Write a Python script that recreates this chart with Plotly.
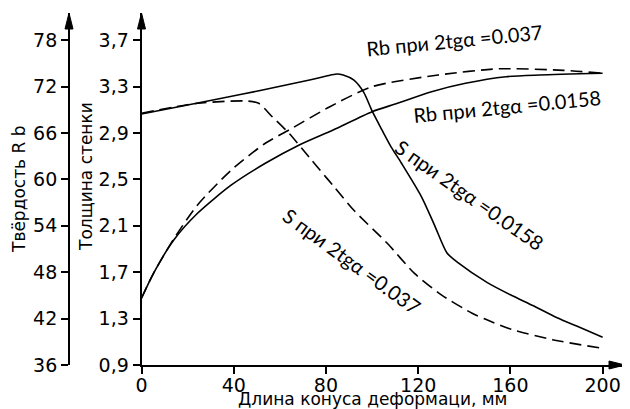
import plotly.graph_objects as go

# ---- data ----
x_s_0158 = [0, 20, 43.4, 58.1, 72.9, 80.2, 84.6, 87.5, 92, 96.4, 100, 104.3, 108.3, 112.7,
            121.5, 127.2, 132.5, 137.4, 150, 160, 170, 180, 190, 200]
s_0158 = [3.064, 3.142, 3.234, 3.294, 3.357, 3.391, 3.409, 3.40, 3.357, 3.25, 3.09, 2.926, 2.779,
          2.641, 2.348, 2.10, 1.866, 1.78, 1.61, 1.505, 1.41, 1.31, 1.225, 1.14]

x_s_037 = [0, 24.3, 45.6, 50.8, 56.7, 64, 72.9, 77.3, 83.1, 92, 106.6, 118.4, 130.2, 143.4,
           149.3, 160.3, 178.7, 200]
s_037 = [3.07, 3.156, 3.176, 3.156, 3.04, 2.897, 2.687, 2.583, 2.446, 2.236, 1.949, 1.69, 1.503,
         1.346, 1.294, 1.208, 1.116, 1.044]

x_rb_0158 = [0, 5.2, 14, 24.3, 39, 53.7, 68.4, 83.1, 100, 111, 125.8, 140.5, 158.1, 172.7, 200]
rb_0158 = [44.63, 47.86, 52.16, 55.62, 59.28, 62.08, 64.45, 66.39, 68.76, 69.84, 71.34, 72.43,
           73.28, 73.5, 73.72]

x_rb_037 = [0, 5.2, 14, 24.3, 39, 53.7, 64, 81.7, 100, 128.7, 155.1, 183.1, 200]
rb_037 = [44.63, 47.86, 52.3, 56.69, 61.22, 64.67, 66.39, 69.4, 71.99, 73.5, 74.3, 74.1, 73.72]

x_ticks = [0, 40, 80, 120, 160, 200]
t_ticks = [0.9, 1.3, 1.7, 2.1, 2.5, 2.9, 3.3, 3.7]
t_ticktext = ["0,9", "1,3", "1,7", "2,1", "2,5", "2,9", "3,3", "3,7"]
h_ticks = [36, 42, 48, 54, 60, 66, 72, 78]

# ---- layout geometry (page body has an 8px margin) ----
OFF = 8
W, H = 630 - OFF, 409 - OFF
ML, MR, MT, MB = 57, 5, 5, 44
PW = W - ML - MR
PH = H - MT - MB


def px_x(px):
    """reference-image x pixel -> paper fraction"""
    return (px - OFF - ML) / PW


def px_y(py):
    """reference-image y pixel -> paper fraction"""
    return (H - MB - (py - OFF)) / PH


X0_PX = 141.5
PX_PER_X = 2.2675
x_max = (630 - MR - OFF - X0_PX) / PX_PER_X
t_range = [0.9, 0.9 + PH / 116.0]
h_range = [36, 36 + PH / (46.4 / 6.0)]

TICKFONT = dict(family="DejaVu Sans", size=19, color="black")
LABFONT = dict(family="Lato", size=20, color="black")
TITLEFONT = dict(family="DejaVu Sans", size=17, color="black")

fig = go.Figure()
lw = 1.6
fig.add_trace(go.Scatter(x=x_s_0158, y=s_0158, mode="lines",
                         line=dict(color="black", width=lw, shape="spline", smoothing=0.7),
                         xaxis="x", yaxis="y", showlegend=False))
fig.add_trace(go.Scatter(x=x_s_037, y=s_037, mode="lines",
                         line=dict(color="black", width=lw, dash="12px,6px", shape="spline", smoothing=0.7),
                         xaxis="x", yaxis="y", showlegend=False))
fig.add_trace(go.Scatter(x=x_rb_0158, y=rb_0158, mode="lines",
                         line=dict(color="black", width=lw, shape="spline", smoothing=0.7),
                         xaxis="x", yaxis="y2", showlegend=False))
fig.add_trace(go.Scatter(x=x_rb_037, y=rb_037, mode="lines",
                         line=dict(color="black", width=lw, dash="12px,6px", shape="spline", smoothing=0.7),
                         xaxis="x", yaxis="y2", showlegend=False))

axis_common = dict(showline=True, linecolor="black", linewidth=1.8, ticks="outside",
                   ticklen=7, tickwidth=1.5, tickcolor="black", showgrid=False,
                   zeroline=False, tickfont=TICKFONT)

fig.update_layout(
    width=W, height=H,
    margin=dict(l=ML, r=MR, t=MT, b=MB),
    paper_bgcolor="white", plot_bgcolor="white",
    xaxis=dict(domain=[px_x(X0_PX), 1], range=[0, x_max], tickmode="array",
               tickvals=x_ticks, ticklabelstandoff=-5, **axis_common),
    yaxis=dict(range=t_range, tickmode="array", tickvals=t_ticks, ticktext=t_ticktext,
               anchor="x", **axis_common),
    yaxis2=dict(range=h_range, tickmode="array", tickvals=h_ticks, overlaying="y",
                anchor="free", position=px_x(69), side="left", **axis_common),
)

# arrowheads
arrow_common = dict(type="path", xref="paper", yref="paper", xsizemode="pixel",
                    ysizemode="pixel", fillcolor="black", line=dict(color="black", width=1))
fig.add_shape(xanchor=px_x(69), yanchor=1, path="M -4,-16 L 0,0 L 4,-16 Z", **arrow_common)
fig.add_shape(xanchor=px_x(X0_PX), yanchor=1, path="M -4,-16 L 0,0 L 4,-16 Z", **arrow_common)
fig.add_shape(xanchor=1, yanchor=0, path="M -16,4 L 0,0 L -16,-4 Z", **arrow_common)


def ann(text, px, py, angle=0, font=LABFONT):
    fig.add_annotation(text=text, x=px_x(px), y=px_y(py), xref="paper", yref="paper",
                       showarrow=False, textangle=angle, font=font,
                       xanchor="center", yanchor="middle")


ann("Rb при 2tgα =0.037", 454, 40, -5.5)
ann("Rb при 2tgα =0.0158", 507, 106, -5.5)
ann("S при 2tgα =0.0158", 470, 195, 35)
ann("S при 2tgα =0.037", 352, 261, 36)

ann("Твёрдость R b", 19, 189, -90, TITLEFONT)
ann("Толщина стенки", 86, 177, -90, TITLEFONT)
ann("Длина конуса деформаци, мм", 372, 399, 0, TITLEFONT)

fig.write_html("out.html")
